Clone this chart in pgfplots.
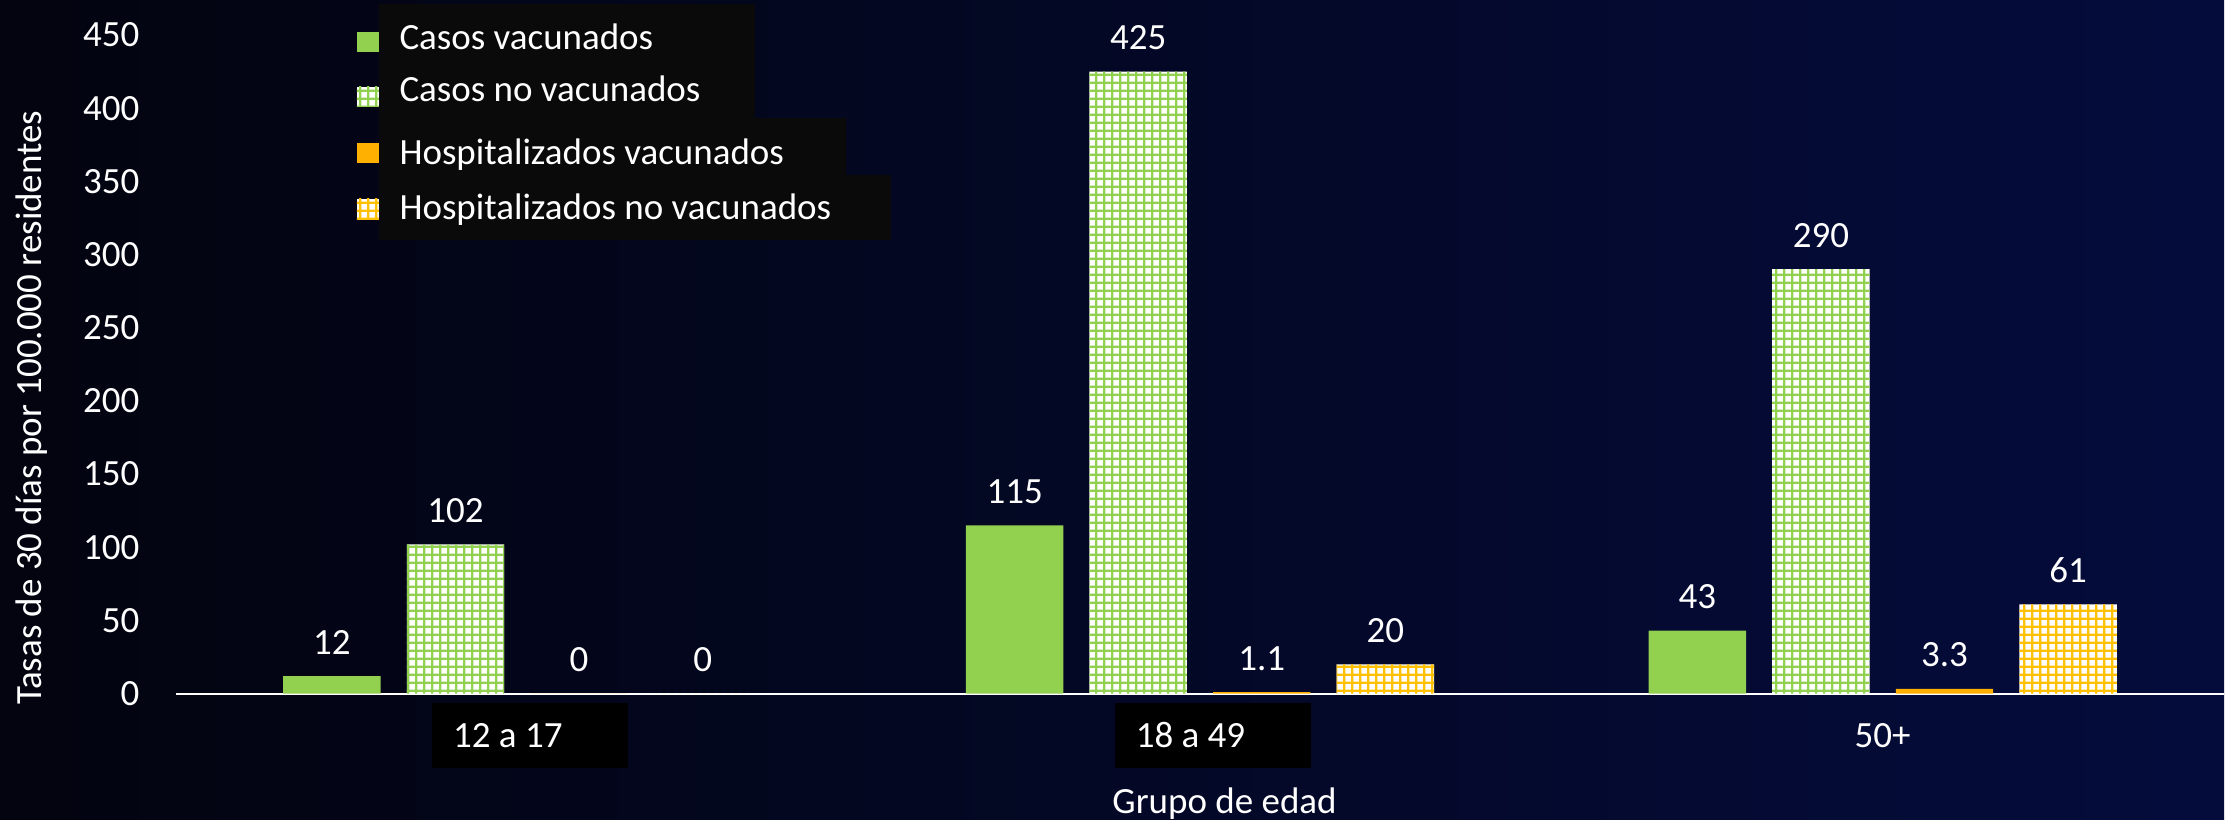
\documentclass[border=0pt]{standalone}
\usepackage{fontspec}
\setmainfont{Carlito}
\usepackage{pgfplots}
\usepackage{pgfplotstable}
\pgfplotsset{compat=1.18}
\usetikzlibrary{patterns.meta}

\definecolor{cgreen}{HTML}{92D050}
\definecolor{corange}{HTML}{FFB000}
\definecolor{cgold}{HTML}{FFC000}
\definecolor{bgleft}{HTML}{03040F}
\definecolor{bgright}{HTML}{040C3C}
\definecolor{legbox}{HTML}{0A0A0A}

% white squares with coloured grid lines (Office "large grid")
\tikzdeclarepattern{
  name=biggrid,
  type=uncolored,
  bottom left={(0pt,0pt)},
  top right={(2.4pt,2.4pt)},
  tile size={(2.4pt,2.4pt)},
  code={
    \fill (0pt,0pt) rectangle (2.4pt,0.75pt);
    \fill (0pt,0pt) rectangle (0.75pt,2.4pt);
  }
}

\newcommand\lbl{\fontsize{11.1pt}{13pt}\selectfont}
\newcommand\blk[1]{\hspace*{7.8pt}{\setlength{\fboxsep}{0pt}\colorbox{black}{\rule[-6.15pt]{0pt}{19.5pt}\hspace{6.3pt}#1\hspace{19.8pt}}}}

\pgfplotstableread{
x   cv   cnv  hv   hnv
0   12   102  0    0
1   115  425  1.1  20
2   43   290  3.3  61
}\datatable

\begin{document}
\begin{tikzpicture}
% page and background, in pixels of the reference (y downwards)
\begin{scope}[x=0.3pt, y=-0.3pt]
  \path[use as bounding box] (0,0) rectangle (2225,820);
  \shade[left color=bgleft, right color=bgright] (0,0) rectangle (2225,820);
\end{scope}

\begin{axis}[
  at={(52.8pt,-208.2pt)}, anchor=south west,
  scale only axis, width=614.7pt, height=197.7pt,
  xmin=-0.5, xmax=2.5, ymin=0, ymax=450,
  ybar, bar width=0.1427,
  axis lines*=left,
  x axis line style={white, line width=0.6pt},
  y axis line style={draw=none},
  major tick length=0pt,
  xtick={0,1,2},
  xticklabels={\blk{12 a 17},\blk{18 a 49},50+},
  ytick={0,50,...,450},
  /pgf/number format/assume math mode=true,
  ticklabel style={font=\lbl, text=white},
  yticklabel style={anchor=east, inner sep=0pt, xshift=-10.8pt},
  xticklabel style={anchor=base, inner sep=0pt, yshift=-16.2pt},
  xlabel={Grupo de edad},
  ylabel={Tasas de 30 días por 100.000 residentes},
  label style={font=\lbl, text=white},
  xlabel style={at={(axis description cs:0.512,-0.182)}, anchor=base, inner sep=0pt},
  ylabel style={at={(axis description cs:-0.0654,0.434)}, anchor=base, inner sep=0pt},
  nodes near coords,
  every node near coord/.append style={font=\lbl, text=white, anchor=south, inner sep=0pt, yshift=6.3pt},
  clip=false,
]
\addplot[fill=cgreen, draw=none, bar shift=-0.2715] table[x=x, y=cv] {\datatable};
\addplot[draw=none, preaction={fill=white}, pattern=biggrid, pattern color=cgreen, bar shift=-0.0905] table[x=x, y=cnv] {\datatable};
\addplot[fill=corange, draw=none, bar shift=0.0905] table[x=x, y=hv] {\datatable};
\addplot[draw=none, preaction={fill=white}, pattern=biggrid, pattern color=cgold, bar shift=0.2715] table[x=x, y=hnv] {\datatable};
\end{axis}

% legend
\begin{scope}[x=0.3pt, y=-0.3pt]
  \fill[legbox] (379,4) rectangle (755,118);
  \fill[legbox] (379,118) rectangle (846,175);
  \fill[legbox] (379,175) rectangle (891,240);
  \fill[cgreen] (357,32) rectangle (379,52);
  \fill[white] (357,87) rectangle (379,107);
  \fill[pattern=biggrid, pattern color=cgreen] (357,87) rectangle (379,107);
  \fill[corange] (357,143) rectangle (379,163);
  \fill[white] (357,199) rectangle (379,220);
  \fill[pattern=biggrid, pattern color=cgold] (357,199) rectangle (379,220);
  \node[anchor=base west, inner sep=0pt, text=white, font=\lbl] at (399,50) {Casos vacunados};
  \node[anchor=base west, inner sep=0pt, text=white, font=\lbl] at (399,102) {Casos no vacunados};
  \node[anchor=base west, inner sep=0pt, text=white, font=\lbl] at (399,165) {Hospitalizados vacunados};
  \node[anchor=base west, inner sep=0pt, text=white, font=\lbl] at (399,220) {Hospitalizados no vacunados};
\end{scope}
\end{tikzpicture}
\end{document}
